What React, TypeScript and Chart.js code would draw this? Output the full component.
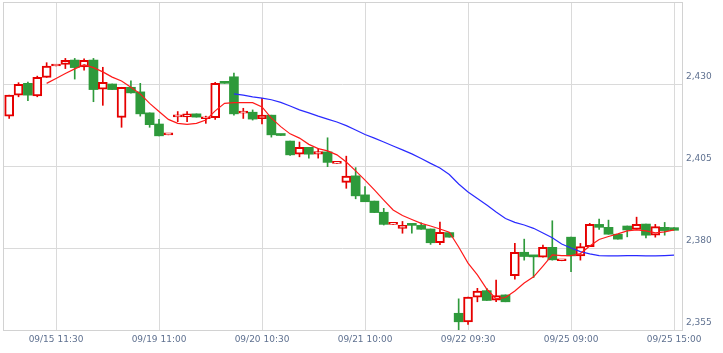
import React, { useEffect, useRef } from 'react';
import { Chart, registerables } from 'chart.js';

Chart.register(...registerables);

// Trading sessions (30-minute candles, lunch break skipped)
const DAYS = ['09/15', '09/19', '09/20', '09/21', '09/22', '09/25'];
const TIMES = ['09:00', '09:30', '10:00', '10:30', '11:00', '11:30', '12:30', '13:00', '13:30', '14:00', '14:30', '15:00'];
const X_TICK_INDEX = [5, 16, 27, 38, 49, 60, 71];
const Y_TICKS = [2355, 2380, 2405, 2430, 2455];

const OPEN = [
  2420.2, 2426.6, 2430.2, 2426.4, 2432.0, 2435.5, 2436.0, 2437.3, 2435.2, 2437.3,
  2428.4, 2430.0, 2419.8, 2429.0, 2427.6, 2421.2, 2417.8, 2414.5, 2420.0, 2420.0,
  2420.9, 2419.4, 2419.7, 2430.6, 2432.2, 2421.1, 2421.4, 2419.4, 2420.5, 2414.5,
  2412.6, 2408.6, 2410.7, 2408.6, 2409.3, 2405.8, 2400.0, 2402.0, 2396.2, 2394.3,
  2390.9, 2387.2, 2386.0, 2387.0, 2386.9, 2385.8, 2381.6, 2384.7, 2360.1, 2357.5,
  2365.0, 2367.0, 2364.1, 2365.7, 2371.6, 2378.7, 2377.4, 2377.2, 2380.2, 2376.1,
  2383.3, 2377.6, 2380.4, 2387.2, 2386.3, 2384.2, 2386.7, 2385.7, 2387.3, 2383.9,
  2386.3, 2386.2,
];
const HIGH = [
  2426.6, 2430.4, 2430.6, 2432.4, 2436.5, 2435.5, 2437.8, 2437.8, 2437.7, 2437.8,
  2435.1, 2430.0, 2429.0, 2431.0, 2430.2, 2421.2, 2419.2, 2414.5, 2421.6, 2421.6,
  2420.9, 2420.2, 2430.5, 2430.6, 2433.3, 2422.6, 2422.1, 2425.6, 2420.5, 2414.5,
  2412.6, 2412.3, 2410.7, 2410.3, 2413.6, 2405.8, 2408.0, 2404.5, 2398.7, 2394.3,
  2392.1, 2387.2, 2388.1, 2387.0, 2387.7, 2385.8, 2387.9, 2384.7, 2364.5, 2365.0,
  2367.7, 2367.7, 2370.2, 2365.7, 2381.4, 2382.7, 2377.4, 2380.9, 2388.3, 2376.1,
  2383.3, 2381.4, 2387.5, 2388.8, 2388.5, 2384.2, 2386.7, 2389.4, 2387.3, 2387.2,
  2387.8, 2386.2,
];
const LOW = [
  2419.5, 2426.1, 2424.9, 2426.1, 2432.0, 2435.5, 2434.7, 2431.5, 2434.2, 2424.6,
  2423.5, 2428.3, 2416.8, 2427.2, 2420.2, 2416.8, 2414.2, 2414.5, 2418.5, 2418.5,
  2419.9, 2418.0, 2419.2, 2430.2, 2420.5, 2419.5, 2419.0, 2417.8, 2413.8, 2414.3,
  2408.2, 2407.8, 2407.4, 2407.4, 2404.8, 2405.8, 2398.2, 2395.0, 2394.1, 2390.8,
  2387.0, 2387.2, 2384.5, 2384.5, 2385.7, 2381.1, 2381.0, 2383.3, 2355.0, 2356.7,
  2363.6, 2364.0, 2363.6, 2363.6, 2370.5, 2376.3, 2371.0, 2377.2, 2376.3, 2376.1,
  2372.8, 2376.3, 2380.4, 2385.7, 2384.2, 2382.7, 2383.4, 2385.7, 2383.1, 2383.3,
  2383.9, 2385.4,
];
const CLOSE = [
  2426.6, 2429.9, 2426.6, 2432.0, 2435.5, 2435.5, 2437.2, 2435.0, 2437.2, 2428.3,
  2430.5, 2428.3, 2429.0, 2427.3, 2420.9, 2417.6, 2414.2, 2414.5, 2420.3, 2420.9,
  2419.9, 2419.6, 2430.2, 2430.2, 2420.9, 2421.3, 2419.3, 2420.5, 2414.5, 2414.3,
  2408.4, 2410.7, 2408.6, 2409.4, 2406.1, 2405.8, 2401.9, 2395.9, 2394.1, 2390.8,
  2387.2, 2387.2, 2386.9, 2386.9, 2385.7, 2381.6, 2384.8, 2383.3, 2357.5, 2365.0,
  2366.9, 2364.0, 2365.5, 2363.6, 2378.7, 2377.4, 2377.3, 2380.2, 2376.4, 2376.1,
  2377.6, 2380.4, 2387.2, 2386.3, 2384.2, 2382.7, 2385.5, 2387.2, 2383.9, 2386.5,
  2385.3, 2385.4,
];
// short moving average (red), starts at the 5th candle
const MA_SHORT = [
  null, null, null, null,
  2430.2, 2431.7, 2433.2, 2434.6, 2435.9, 2435.0, 2433.7, 2432.1, 2430.9, 2429.0,
  2427.0, 2424.1, 2421.6, 2419.2, 2418.0, 2417.7, 2418.0, 2419.0, 2421.8, 2424.1,
  2424.3, 2424.3, 2424.3, 2423.0, 2419.6, 2417.0, 2414.8, 2413.5, 2411.6, 2410.3,
  2409.6, 2408.4, 2406.2, 2403.5, 2400.7, 2397.7, 2394.6, 2391.6, 2389.9, 2388.7,
  2387.5, 2386.7, 2385.8, 2384.8, 2380.3, 2375.4, 2371.8, 2367.5, 2364.5, 2364.9,
  2366.9, 2369.3, 2371.2, 2374.5, 2377.9, 2377.7, 2377.7, 2378.3, 2380.6, 2382.6,
  2383.5, 2384.3, 2385.2, 2385.5, 2385.2, 2384.6, 2384.9, 2385.5,
];
// long moving average (blue), starts at the 25th candle
const MA_LONG = [
  null, null, null, null, null, null, null, null, null, null, null, null,
  null, null, null, null, null, null, null, null, null, null, null, null,
  2427.0, 2426.6, 2426.1, 2425.7, 2425.2, 2424.4, 2423.3, 2422.1, 2421.2, 2420.2,
  2419.3, 2418.4, 2417.3, 2416.0, 2414.6, 2413.5, 2412.3, 2411.1, 2409.9, 2408.7,
  2407.3, 2405.8, 2404.4, 2402.4, 2399.5, 2397.1, 2395.1, 2393.1, 2391.0, 2389.0,
  2387.8, 2387.0, 2386.0, 2384.6, 2383.1, 2381.2, 2380.0, 2378.9, 2378.2, 2377.7,
  2377.6, 2377.6, 2377.7, 2377.7, 2377.6, 2377.6, 2377.7, 2377.8,
];

const RED = '#e60000';
const GREEN = '#2e9a3b';
const GRID = '#dadada';
const LABEL = '#5f7190';

export default function App() {
  const ref = useRef<HTMLCanvasElement>(null);

  useEffect(() => {
    if (!ref.current) return;
    const labels = DAYS.flatMap((d) => TIMES.map((t) => `${d} ${t}`));
    const up = CLOSE.map((c, i) => c >= OPEN[i]);
    const toPoints = (arr: (number | null)[]) =>
      arr.map((v, i) => (v == null ? null : { x: i, y: v })).filter((p) => p !== null);

    const frame = {
      id: 'frame',
      beforeDatasetsDraw(chart: any) {
        const { ctx, chartArea: a } = chart;
        ctx.save();
        ctx.strokeStyle = '#d2d2d2';
        ctx.lineWidth = 1;
        ctx.strokeRect(Math.round(a.left) + 0.5, Math.round(a.top) + 0.5, Math.round(a.right - a.left), Math.round(a.bottom - a.top));
        ctx.restore();
      },
    };

    const font = { family: 'DejaVu Sans', size: 9 };

    const chart = new Chart(ref.current, {
      type: 'bar',
      data: {
        datasets: [
          {
            type: 'line',
            data: toPoints(MA_SHORT) as any,
            borderColor: '#ff1a1a',
            borderWidth: 1.2,
            pointRadius: 0,
            tension: 0,
            order: 0,
          } as any,
          {
            type: 'line',
            data: toPoints(MA_LONG) as any,
            borderColor: '#2a2aff',
            borderWidth: 1.2,
            pointRadius: 0,
            tension: 0,
            order: 0,
          } as any,
          {
            type: 'bar',
            data: OPEN.map((o, i) => ({ x: i, y: [o, CLOSE[i]] })) as any,
            backgroundColor: up.map((u) => (u ? '#ffffff' : GREEN)),
            borderColor: up.map((u) => (u ? RED : GREEN)),
            borderWidth: up.map((u) => (u ? 2 : 0)),
            borderSkipped: false,
            barThickness: 9,
            minBarLength: 2,
            grouped: false,
            order: 1,
          } as any,
          {
            type: 'bar',
            data: LOW.map((l, i) => ({ x: i, y: [l, HIGH[i]] })) as any,
            backgroundColor: up.map((u) => (u ? RED : GREEN)),
            borderWidth: 0,
            barThickness: 1,
            grouped: false,
            order: 2,
          } as any,
        ],
      },
      options: {
        animation: false,
        responsive: false,
        devicePixelRatio: 1,
        layout: { padding: { left: 3, top: 2, right: 0, bottom: 0 } },
        plugins: { legend: { display: false }, tooltip: { enabled: false } },
        scales: {
          x: {
            type: 'linear',
            min: -0.66,
            max: 71.85,
            offset: false,
            afterBuildTicks: (s: any) => {
              s.ticks = X_TICK_INDEX.map((v) => ({ value: v }));
            },
            afterFit: (s: any) => {
              s.height = 23;
              s.paddingLeft = 0;
              s.paddingRight = 0;
            },
            ticks: {
              callback: (v: any) => labels[v] ?? '',
              color: LABEL,
              font,
              padding: 4,
              maxRotation: 0,
              autoSkip: false,
            },
            grid: { color: GRID, drawTicks: false, offset: false },
            border: { display: false },
          },
          y: {
            position: 'right',
            min: 2355,
            max: 2455,
            afterBuildTicks: (s: any) => {
              s.ticks = Y_TICKS.map((v) => ({ value: v }));
            },
            afterFit: (s: any) => {
              s.width = 41;
              s.paddingTop = 0;
              s.paddingBottom = 0;
            },
            ticks: {
              callback: (v: any) => (v === 2455 ? '' : Number(v).toLocaleString('en-US')),
              color: LABEL,
              font,
              padding: 4,
              labelOffset: -7,
            },
            grid: { color: GRID, drawTicks: false },
            border: { display: false },
          },
        },
      } as any,
      plugins: [frame],
    });
    return () => chart.destroy();
  }, []);

  return (
    <div style={{ position: 'absolute', left: 0, top: 0, width: 723, height: 353, background: '#fff' }}>
      <canvas ref={ref} width={723} height={353} style={{ display: 'block', width: 723, height: 353 }} />
    </div>
  );
}
